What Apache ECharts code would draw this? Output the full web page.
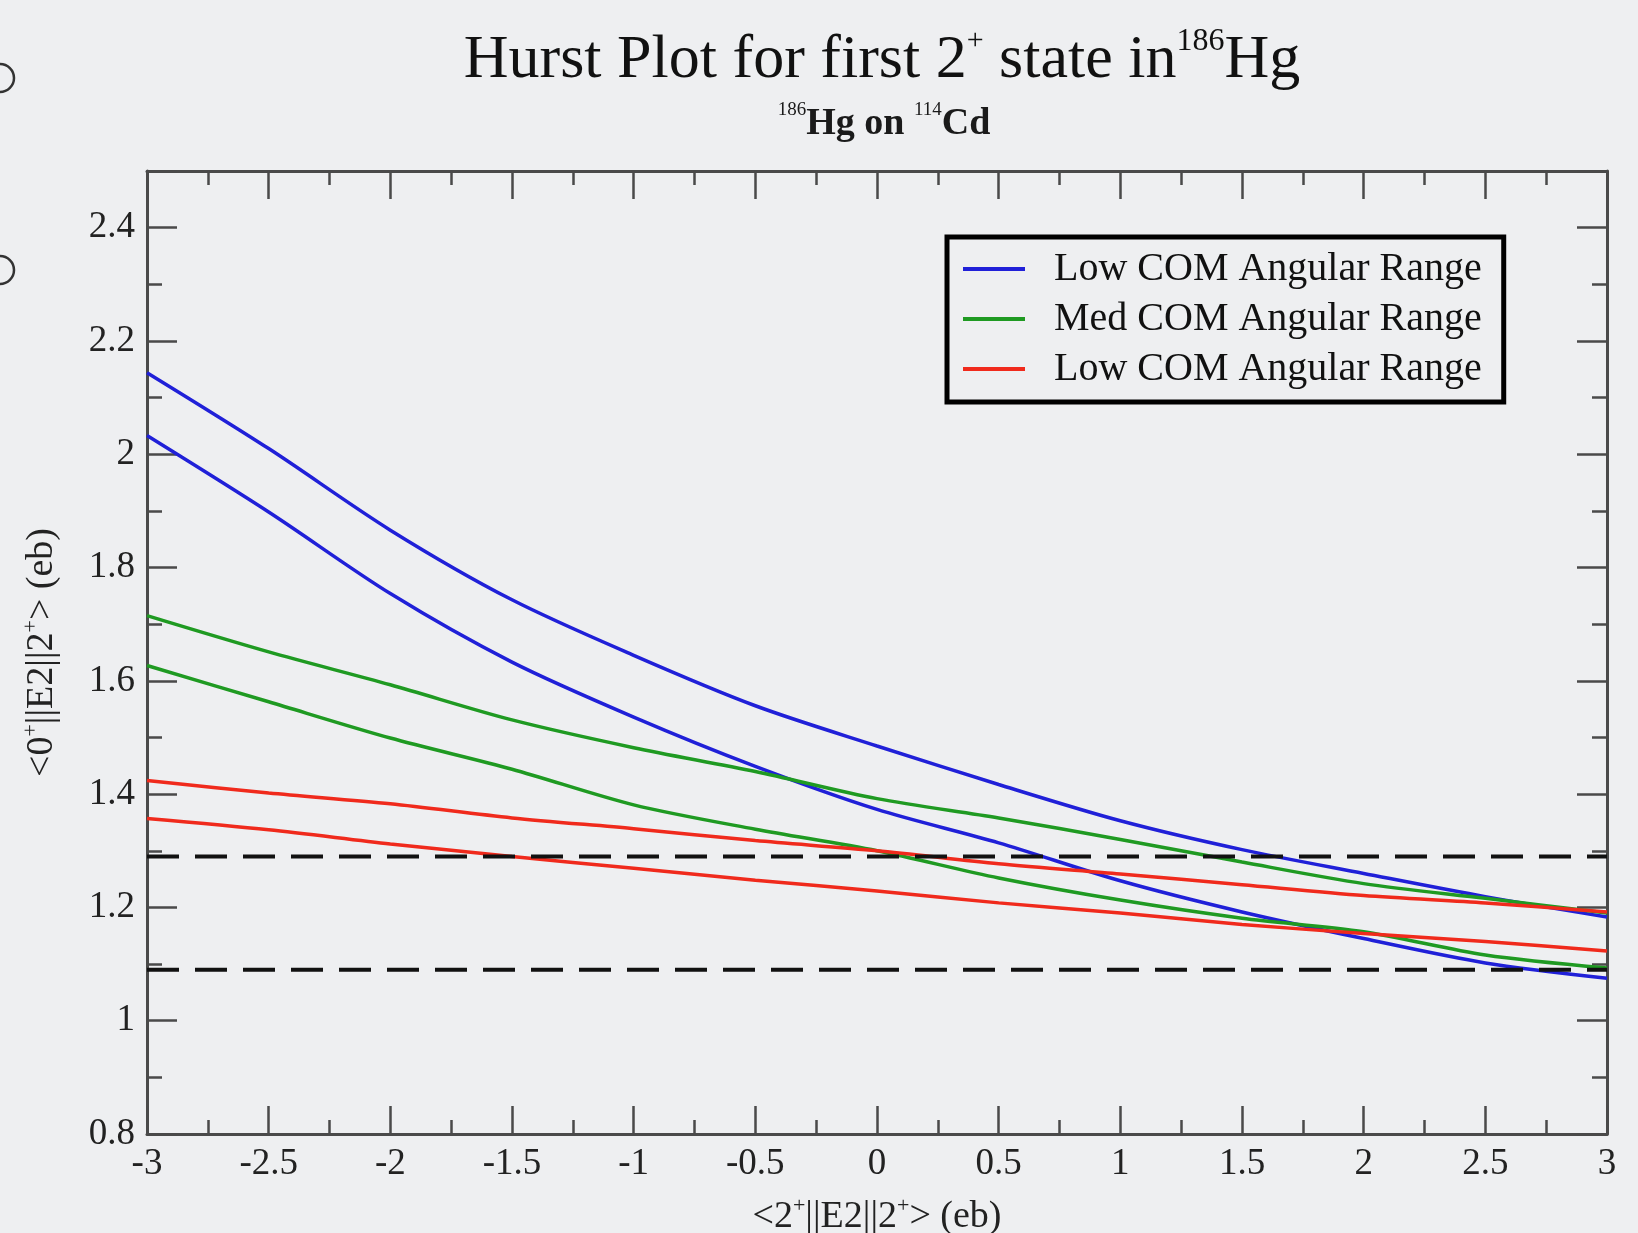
<!DOCTYPE html>
<html>
<head>
<meta charset="utf-8">
<title>Hurst Plot</title>
<script src="https://cdn.jsdelivr.net/npm/echarts@6/dist/echarts.min.js"></script>
<style>
	html,body{margin:0;padding:0;background:#eeeff1;}
	#chart{width:1638px;height:1233px;}
</style>
</head>
<body>
<div id="chart"></div>
<script>
	// x values of the sampled points
	var xs = [-3, -2.5, -2, -1.5, -1, -0.5, 0, 0.5, 1, 1.5, 2, 2.5, 3];

	// two bands per angular range (upper, lower)
	var blueUpper = [2.144, 2.010, 1.866, 1.743, 1.645, 1.556, 1.485, 1.417, 1.353, 1.302, 1.260, 1.219, 1.183];
	var blueLower = [2.033, 1.898, 1.754, 1.633, 1.536, 1.449, 1.373, 1.314, 1.247, 1.192, 1.145, 1.102, 1.075];
	var greenUpper = [1.715, 1.651, 1.593, 1.531, 1.482, 1.440, 1.392, 1.358, 1.320, 1.280, 1.242, 1.216, 1.190];
	var greenLower = [1.627, 1.563, 1.499, 1.444, 1.381, 1.338, 1.300, 1.252, 1.213, 1.181, 1.157, 1.116, 1.093];
	var redUpper = [1.424, 1.402, 1.383, 1.358, 1.339, 1.318, 1.300, 1.277, 1.259, 1.240, 1.221, 1.208, 1.192];
	var redLower = [1.357, 1.337, 1.312, 1.290, 1.269, 1.248, 1.229, 1.208, 1.190, 1.170, 1.154, 1.140, 1.123];

	// horizontal dashed limits
	var dashLevels = [1.29, 1.09];

	var legendNames = ["low", "med", "low2"];
	var legendLabels = {
		low: "Low COM Angular Range",
		med: "Med COM Angular Range",
		low2: "Low COM Angular Range"
	};

	var _serif = "Liberation Serif";
	var _axisColor = "#4a4a4a";

	function zip(ys){
		var out = [];
		for (var i = 0; i < xs.length; i++){
			out.push([xs[i], ys[i]]);
		}
		return out;
	}

	function curve(name, color, ys){
		return {
			type: "line",
			name: name,
			data: zip(ys),
			smooth: 0.3,
			symbol: "none",
			lineStyle: {color: color, width: 3.5},
			itemStyle: {color: color},
			z: 2
		};
	}

	function dashLine(y){
		return {
			type: "line",
			data: [[xs[0], y], [xs[xs.length - 1], y]],
			symbol: "none",
			silent: true,
			lineStyle: {color: "#111", width: 4, type: [32, 16]},
			z: 3
		};
	}

	// rich styles for axis names with superscripts
	var _nameRich = {
		t: {fontFamily: _serif, fontSize: 38, color: "#222", lineHeight: 44},
		s: {fontFamily: _serif, fontSize: 22, color: "#222", lineHeight: 22, verticalAlign: "top"}
	};

	function xAxisConf(pos, showLabel){
		return {
			type: "value",
			position: pos,
			min: -3,
			max: 3,
			interval: 0.5,
			axisLine: {show: true, onZero: false, lineStyle: {color: _axisColor, width: 3}},
			axisTick: {show: true, inside: true, length: 28, lineStyle: {color: _axisColor, width: 2.5}},
			minorTick: {show: true, splitNumber: 2, length: 14, lineStyle: {color: _axisColor, width: 2.5}},
			splitLine: {show: false},
			axisLabel: {show: showLabel, color: "#222", fontFamily: _serif, fontSize: 37, margin: 12},
			name: showLabel ? "{t|<2}{s|+}{t|||E2||2}{s|+}{t|> (eb)}" : "",
			nameLocation: "middle",
			nameGap: 61,
			nameTextStyle: {rich: _nameRich}
		};
	}

	function yAxisConf(pos, showLabel){
		return {
			type: "value",
			position: pos,
			min: 0.8,
			max: 2.5,
			interval: 0.2,
			axisLine: {show: true, onZero: false, lineStyle: {color: _axisColor, width: 3}},
			axisTick: {show: true, inside: true, length: 30, lineStyle: {color: _axisColor, width: 2.5}},
			minorTick: {show: true, splitNumber: 2, length: 15, lineStyle: {color: _axisColor, width: 2.5}},
			splitLine: {show: false},
			axisLabel: {show: showLabel, showMaxLabel: false, color: "#222", fontFamily: _serif, fontSize: 37, margin: 12},
			name: showLabel ? "{t|<0}{s|+}{t|||E2||2}{s|+}{t|> (eb)}" : "",
			nameLocation: "middle",
			nameRotate: 90,
			nameGap: 83,
			nameTextStyle: {rich: _nameRich}
		};
	}

	var chart = echarts.init(document.getElementById("chart"));

	var option = {
		backgroundColor: "#eeeff1",
		animation: false,
		title: [{
			left: 877,
			top: 21,
			textAlign: "center",
			text: "{m|Hurst Plot for first 2}{q|+}{m| state in}{p|186}{m|Hg}",
			textStyle: {
				rich: {
					m: {fontFamily: _serif, fontSize: 62, fontWeight: "normal", color: "#111", lineHeight: 70},
					q: {fontFamily: _serif, fontSize: 30, fontWeight: "normal", color: "#111", lineHeight: 28, verticalAlign: "top"},
					p: {fontFamily: _serif, fontSize: 32, fontWeight: "normal", color: "#111", lineHeight: 7, verticalAlign: "top"}
				}
			}
		}, {
			left: 879,
			top: 96,
			textAlign: "center",
			text: "{p|186}{m|Hg on }{p|114}{m|Cd}",
			textStyle: {
				rich: {
					m: {fontFamily: _serif, fontSize: 38, fontWeight: "bold", color: "#1a1a1a", lineHeight: 46},
					p: {fontFamily: _serif, fontSize: 19, fontWeight: "normal", color: "#1a1a1a", lineHeight: 10, verticalAlign: "top"}
				}
			}
		}],
		grid: {left: 147, right: 31, top: 171, bottom: 99, containLabel: false, outerBoundsMode: "none"},
		legend: {
			data: legendNames,
			orient: "vertical",
			left: 947,
			top: 237,
			padding: [12, 22, 13, 16],
			itemGap: 10,
			itemWidth: 62,
			itemHeight: 4,
			icon: "rect",
			borderColor: "#000",
			borderWidth: 5,
			backgroundColor: "#eeeff1",
			formatter: function(name){
				return legendLabels[name];
			},
			textStyle: {fontFamily: _serif, fontSize: 40, color: "#111", lineHeight: 40, padding: [0, 0, 0, 24]}
		},
		xAxis: [xAxisConf("bottom", true), xAxisConf("top", false)],
		yAxis: [yAxisConf("left", true), yAxisConf("right", false)],
		graphic: [
			{type: "circle", shape: {cx: 0, cy: 78, r: 14}, style: {fill: "none", stroke: "#333", lineWidth: 2.5}},
			{type: "circle", shape: {cx: 0, cy: 270, r: 14}, style: {fill: "none", stroke: "#333", lineWidth: 2.5}}
		],
		series: [
			curve("low", "#2020d8", blueUpper),
			curve("low", "#2020d8", blueLower),
			curve("med", "#1f9a22", greenUpper),
			curve("med", "#1f9a22", greenLower),
			curve("low2", "#f02a1c", redUpper),
			curve("low2", "#f02a1c", redLower),
			dashLine(dashLevels[0]),
			dashLine(dashLevels[1])
		]
	};

	chart.setOption(option);
</script>
</body>
</html>
